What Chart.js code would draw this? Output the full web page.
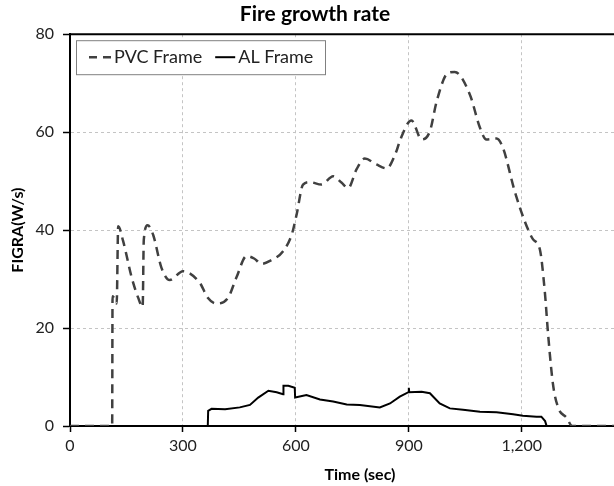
<!DOCTYPE html>
<html lang="en">
<head>
  <meta charset="UTF-8">
  <title>Fire growth rate</title>
  <script src="https://cdn.jsdelivr.net/npm/chart.js"></script>
  <style>
    html, body { margin: 0; padding: 0; background: #fff; }
    canvas { display: block; }
  </style>
</head>
<body>
  <canvas id="figra" width="614" height="486"></canvas>

  <script>
    // values
    const xTicks = [0, 300, 600, 900, 1200];
    const xMax = 1445;
    const yTickStep = 20;
    const yMax = 80;

    const pvcTime = [0, 112, 113, 118, 124, 128, 141, 164, 181, 193, 196, 206, 221, 243, 265, 300, 345, 366, 389, 420,
      442, 469, 489, 509, 531, 566, 589, 602, 619, 637, 668, 699, 721, 739, 761, 783, 814, 841, 867, 876,
      907, 934, 956, 974, 1004, 1022, 1062, 1089, 1106, 1133, 1150, 1181, 1208, 1230, 1248, 1261, 1270, 1283, 1297, 1319,
      1334, 1445];
    const pvcValue = [0, 0, 26.5, 26, 25, 40.8, 37.8, 30.3, 26.2, 24.3, 38, 41, 39, 32.3, 29.8, 31.6, 29.2, 26.2, 25, 26.2,
      30.3, 34.7, 34.2, 33.1, 33.7, 35.7, 39.1, 43.2, 49.3, 49.8, 49.3, 51, 49.7, 48.6, 52.4, 54.6, 53.4, 52.6, 56.1, 58.2,
      62.4, 58.5, 60.2, 66.3, 72.1, 72.3, 67.7, 60.9, 58.5, 58.7, 56.8, 48, 41.8, 38.1, 36.1, 27.6, 18.7, 8.5, 3.7, 1.7,
      0, 0];

    const alTime = [0, 366, 367, 376, 412, 451, 478, 500, 527, 549, 566, 567, 580, 597, 598, 628, 664, 699, 735, 770,
      823, 850, 876, 899, 900, 901, 934, 956, 982, 1009, 1044, 1089, 1133, 1177, 1203, 1239, 1252, 1262, 1266, 1445];
    const alValue = [0, 0, 3.1, 3.5, 3.4, 3.8, 4.3, 5.8, 7.2, 6.9, 6.5, 8.2, 8.2, 7.8, 5.8, 6.3, 5.4, 5.0, 4.4, 4.3,
      3.8, 4.6, 6.0, 6.9, 7.8, 6.9, 7.0, 6.7, 4.6, 3.6, 3.3, 2.9, 2.8, 2.4, 2.1, 1.9, 1.9, 1.0, 0, 0];

    const xTitle = 'Time (sec)';

    const toPoints = (xs, ys) => xs.map((x, i) => ({ x, y: ys[i] }));

    Chart.defaults.font.family = 'Lato';
    Chart.defaults.color = '#222';

    // top frame line, boxed legend inside the plot, x title, title nudged left
    const frame = {
      id: 'frame',
      afterLayout(chart) {
        const t = chart.titleBlock;
        if (t) { t.left = 16; t.right = 614; }
      },
      afterDraw(chart) {
        const { ctx, chartArea } = chart;
        ctx.save();
        ctx.strokeStyle = '#000';
        ctx.lineWidth = 2;
        ctx.beginPath();
        ctx.moveTo(chartArea.left, chartArea.top);
        ctx.lineTo(chartArea.right, chartArea.top);
        ctx.stroke();

        // legend box
        const bx = chartArea.left + 6, by = chartArea.top + 6;
        ctx.fillStyle = '#fff';
        ctx.fillRect(bx, by, 249, 34);
        ctx.strokeStyle = '#808080';
        ctx.lineWidth = 1;
        ctx.strokeRect(bx + 0.5, by + 0.5, 249, 34);

        ctx.font = '18px Lato';
        ctx.textBaseline = 'middle';
        ctx.textAlign = 'left';
        const cy = by + 17;
        let x = bx + 13;
        chart.data.datasets.forEach((ds, i) => {
          const w = i === 0 ? 22 : 20;
          ctx.strokeStyle = ds.borderColor;
          ctx.lineWidth = ds.borderWidth;
          ctx.setLineDash(ds.borderDash ? [8, 6] : []);
          ctx.beginPath();
          ctx.moveTo(x, cy);
          ctx.lineTo(x + w, cy);
          ctx.stroke();
          ctx.setLineDash([]);
          ctx.fillStyle = '#222';
          ctx.fillText(ds.label, x + w + 3, cy);
          x += w + 3 + ctx.measureText(ds.label).width + 13;
        });

        // x axis title
        ctx.font = 'bold 16px Lato';
        ctx.fillStyle = '#000';
        ctx.textAlign = 'center';
        ctx.fillText(xTitle, 360, 475);
        ctx.restore();
      }
    };

    new Chart(document.getElementById('figra'), {
      type: 'line',
      data: {
        datasets: [
          {
            label: 'PVC Frame',
            data: toPoints(pvcTime, pvcValue),
            borderColor: '#404040',
            borderWidth: 2.5,
            borderDash: [9, 6],
            cubicInterpolationMode: 'monotone',
            pointRadius: 0,
            fill: false
          },
          {
            label: 'AL Frame',
            data: toPoints(alTime, alValue),
            borderColor: '#000',
            borderWidth: 2,
            tension: 0,
            pointRadius: 0,
            fill: false
          }
        ]
      },
      options: {
        responsive: false,
        animation: false,
        locale: 'en-US',
        layout: { padding: 0 },
        plugins: {
          title: {
            display: true,
            text: 'Fire growth rate',
            color: '#000',
            font: { size: 21, weight: 'bold' },
            padding: { top: 2, bottom: 7 }
          },
          legend: { display: false },
          tooltip: { enabled: false }
        },
        scales: {
          x: {
            type: 'linear',
            min: 0,
            max: xMax,
            afterBuildTicks(scale) { scale.ticks = xTicks.map(v => ({ value: v })); },
            ticks: {
              maxRotation: 0,
              padding: 4,
              color: '#222',
              font: { size: 16 }
            },
            grid: { color: '#c4c4c4', lineWidth: 1, tickColor: '#000', tickLength: 6, tickWidth: 1.5, tickBorderDash: [] },
            border: { color: '#000', width: 2, dash: [3, 3] },
            afterFit(scale) { scale.height = 60; }
          },
          y: {
            min: 0,
            max: yMax,
            ticks: {
              stepSize: yTickStep,
              padding: 9,
              color: '#222',
              font: { size: 16 }
            },
            grid: { color: '#c4c4c4', lineWidth: 1, tickColor: '#000', tickLength: 7, tickWidth: 1.5, tickBorderDash: [] },
            border: { color: '#000', width: 2, dash: [3, 3] },
            title: {
              display: true,
              text: 'FIGRA(W/s)',
              color: '#000',
              font: { size: 16, weight: 'bold' },
              padding: { top: 8, bottom: 0 }
            },
            afterFit(scale) { scale.width = 70; }
          }
        }
      },
      plugins: [frame]
    });
  </script>
</body>
</html>
